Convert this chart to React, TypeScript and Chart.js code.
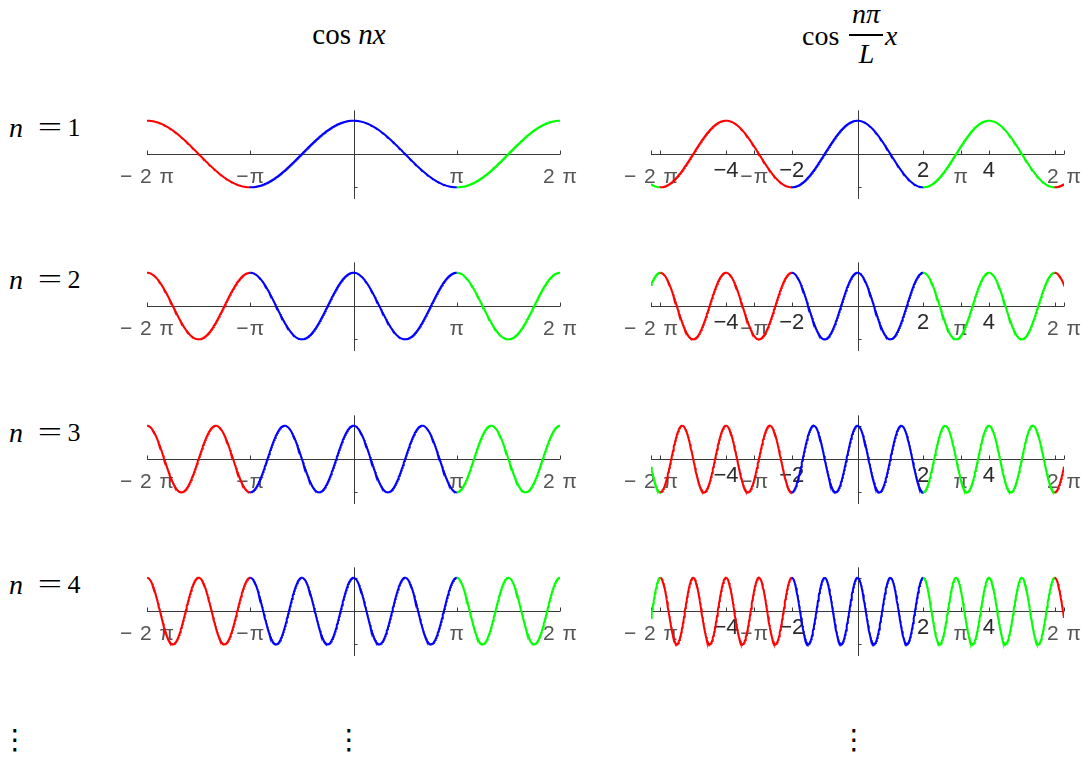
import React, { useEffect, useRef } from "react";
import { Chart, registerables } from "chart.js";

Chart.register(...registerables);

// ---------- data ----------
const HARMONICS = [1, 2, 3, 4];
const ROW_LABEL_NUMBERS = ["1", "2", "3", "4"];
const X_MIN = -2 * Math.PI;
const X_MAX = 2 * Math.PI;
const Y_MIN = -1.35;
const Y_MAX = 1.31;
// left column: cos nx  (half period L = π); right column: cos(nπx/L) with L = 2
const LEFT_HALF_PERIOD = Math.PI;
const RIGHT_HALF_PERIOD = 2;
const PI_TICK_VALUES = [-2 * Math.PI, -Math.PI, Math.PI, 2 * Math.PI];
const PI_TICK_LABELS = ["\u2212 2 \u03c0", "\u2212\u03c0", "\u03c0", "2 \u03c0"];
const INT_TICK_VALUES = [-6, -4, -2, 2, 4, 6];
const INT_TICK_LABELS = ["", "\u22124", "\u22122", "2", "4", ""];
const Y_TICK_VALUES = [-1, 1];
// colour per period window: centre window, the one to its right, the one to its left (repeating)
const WINDOW_COLORS = ["#0000ff", "#00ff00", "#ff0000"];
const SAMPLE_COUNT = 900;

// ---------- layout ----------
const ROW_AXIS_Y = [154, 306, 459, 611];
const PLOT_LEFT = [147, 651];
const PLOT_WIDTH = 413;
const UNIT_Y = 33.3;
const CANVAS_PAD_X = 40;
const CANVAS_H = 106;
const AXIS_IN_CANVAS = 50;

function buildCurve(n: number, halfPeriod: number) {
  const xs: number[] = [];
  for (let i = 0; i <= SAMPLE_COUNT; i++) xs.push(X_MIN + ((X_MAX - X_MIN) * i) / SAMPLE_COUNT);
  for (let k = -6; k <= 6; k++) {
    const b = (2 * k + 1) * halfPeriod;
    if (b > X_MIN && b < X_MAX) xs.push(b);
  }
  xs.sort((a, b) => a - b);
  return xs.map((x) => ({ x, y: Math.cos((n * Math.PI * x) / halfPeriod) }));
}

function windowColor(x: number, halfPeriod: number) {
  const k = Math.floor((x + halfPeriod) / (2 * halfPeriod));
  return WINDOW_COLORS[((k % 3) + 3) % 3];
}

const axesPlugin = {
  id: "centerAxes",
  beforeDatasetsDraw(chart: any, _args: any, opts: any) {
    const { ctx, chartArea, scales } = chart;
    const xs = scales.x;
    const ys = scales.y;
    const y0 = Math.round(ys.getPixelForValue(0)) + 0.5;
    const x0 = Math.round(xs.getPixelForValue(0)) + 0.5;
    ctx.save();
    ctx.strokeStyle = "#3a3a3a";
    ctx.lineWidth = 1;
    ctx.beginPath();
    ctx.moveTo(chartArea.left, y0);
    ctx.lineTo(chartArea.right, y0);
    ctx.moveTo(x0, chartArea.top);
    ctx.lineTo(x0, chartArea.bottom);
    const tickVals: number[] = [...PI_TICK_VALUES, ...(opts.intTicks ? INT_TICK_VALUES : [])];
    tickVals.forEach((v) => {
      const px = Math.round(xs.getPixelForValue(v)) + 0.5;
      ctx.moveTo(px, y0);
      ctx.lineTo(px, y0 - 4);
    });
    Y_TICK_VALUES.forEach((v) => {
      const py = Math.round(ys.getPixelForValue(v)) + 0.5;
      ctx.moveTo(x0, py);
      ctx.lineTo(x0 + 3, py);
    });
    ctx.stroke();

    ctx.textAlign = "center";
    ctx.textBaseline = "alphabetic";
    ctx.font = "21px 'Liberation Sans', Arial, sans-serif";
    (ctx as any).letterSpacing = "1px";
    ctx.fillStyle = "#555555";
    PI_TICK_VALUES.forEach((v, i) => {
      ctx.fillText(PI_TICK_LABELS[i], xs.getPixelForValue(v) + 0.5, y0 + 28);
    });
    if (opts.intTicks) {
      ctx.font = "22px 'Liberation Sans', Arial, sans-serif";
      (ctx as any).letterSpacing = "0px";
      ctx.fillStyle = "#2a2a2a";
      INT_TICK_VALUES.forEach((v, i) => {
        if (INT_TICK_LABELS[i]) ctx.fillText(INT_TICK_LABELS[i], xs.getPixelForValue(v), y0 + 22);
      });
    }
    ctx.restore();
  },
};

function CosPlot(props: { n: number; halfPeriod: number; col: number; row: number }) {
  const { n, halfPeriod, col, row } = props;
  const ref = useRef<HTMLCanvasElement>(null);
  const canvasLeft = PLOT_LEFT[col] - CANVAS_PAD_X;
  const canvasW = col === 0 ? PLOT_WIDTH + 2 * CANVAS_PAD_X : 1090 - canvasLeft;
  const canvasTop = ROW_AXIS_Y[row] - AXIS_IN_CANVAS;
  const padTop = AXIS_IN_CANVAS - Y_MAX * UNIT_Y;
  const padBottom = CANVAS_H - padTop - (Y_MAX - Y_MIN) * UNIT_Y;

  useEffect(() => {
    const points = buildCurve(n, halfPeriod);
    const chart = new Chart(ref.current as HTMLCanvasElement, {
      type: "line",
      data: {
        datasets: [
          {
            data: points,
            borderWidth: 2,
            pointRadius: 0,
            tension: 0,
            fill: false,
            borderColor: WINDOW_COLORS[0],
            segment: {
              borderColor: (c: any) =>
                windowColor((points[c.p0DataIndex].x + points[c.p1DataIndex].x) / 2, halfPeriod),
            },
          } as any,
        ],
      },
      options: {
        animation: false,
        responsive: false,
        devicePixelRatio: 1,
        events: [],
        layout: {
          padding: {
            left: CANVAS_PAD_X,
            right: canvasW - CANVAS_PAD_X - PLOT_WIDTH,
            top: padTop,
            bottom: padBottom,
          },
        },
        plugins: {
          legend: { display: false },
          tooltip: { enabled: false },
          centerAxes: { intTicks: col === 1 },
        } as any,
        scales: {
          x: { type: "linear", min: X_MIN, max: X_MAX, display: false },
          y: { type: "linear", min: Y_MIN, max: Y_MAX, display: false },
        },
      },
      plugins: [axesPlugin],
    });
    return () => chart.destroy();
  }, []);

  return (
    <canvas
      ref={ref}
      width={canvasW}
      height={CANVAS_H}
      style={{ position: "absolute", left: canvasLeft, top: canvasTop, width: canvasW, height: CANVAS_H }}
    />
  );
}

const SERIF = "'Liberation Serif', 'DejaVu Serif', serif";

function Txt(props: {
  x: number;
  base: number;
  size: number;
  italic?: boolean;
  center?: boolean;
  sx?: number;
  children: React.ReactNode;
}) {
  const { x, base, size, italic, center, sx, children } = props;
  const tf = [center ? "translateX(-50%)" : "", sx ? `scaleX(${sx})` : ""].join(" ").trim();
  return (
    <span
      style={{
        position: "absolute",
        left: x,
        top: base - 0.8375 * size,
        fontSize: size,
        lineHeight: `${size}px`,
        fontStyle: italic ? "italic" : "normal",
        whiteSpace: "nowrap",
        transform: tf || undefined,
        transformOrigin: "center",
      }}
    >
      {children}
    </span>
  );
}

export default function App() {
  return (
    <div
      style={{
        position: "absolute",
        left: 0,
        top: 0,
        width: 1090,
        height: 760,
        background: "#ffffff",
        fontFamily: SERIF,
        color: "#000",
        overflow: "hidden",
      }}
    >
      {/* column titles */}
      <Txt x={349} base={44} size={29} center>
        cos&nbsp;<i>nx</i>
      </Txt>
      <Txt x={802} base={45} size={28}>
        cos
      </Txt>
      <Txt x={866} base={23} size={28} italic center>
        n{"\u03c0"}
      </Txt>
      <div style={{ position: "absolute", left: 849, top: 34, width: 34, height: 1.6, background: "#000" }} />
      <Txt x={866.5} base={63} size={28} italic center>
        L
      </Txt>
      <Txt x={885} base={45} size={28} italic>
        x
      </Txt>

      {/* row labels */}
      {HARMONICS.map((n, r) => (
        <React.Fragment key={"lab" + n}>
          <Txt x={9} base={ROW_AXIS_Y[r] - 17} size={28} italic>
            n
          </Txt>
          <Txt x={50} base={ROW_AXIS_Y[r] - 17} size={27} center sx={1.6}>
            =
          </Txt>
          <Txt x={74} base={ROW_AXIS_Y[r] - 17} size={26} center>
            {ROW_LABEL_NUMBERS[r]}
          </Txt>
        </React.Fragment>
      ))}

      {/* plots */}
      {HARMONICS.map((n, r) => (
        <React.Fragment key={"row" + n}>
          <CosPlot n={n} halfPeriod={LEFT_HALF_PERIOD} col={0} row={r} />
          <CosPlot n={n} halfPeriod={RIGHT_HALF_PERIOD} col={1} row={r} />
        </React.Fragment>
      ))}

      {/* continuation dots */}
      {[15, 349, 854].map((x) => (
        <span
          key={"dots" + x}
          style={{
            position: "absolute",
            left: x,
            top: 722,
            transform: "translateX(-50%)",
            fontFamily: "'DejaVu Sans', sans-serif",
            fontSize: 28,
            lineHeight: "36px",
          }}
        >
          {"\u22ee"}
        </span>
      ))}
    </div>
  );
}
